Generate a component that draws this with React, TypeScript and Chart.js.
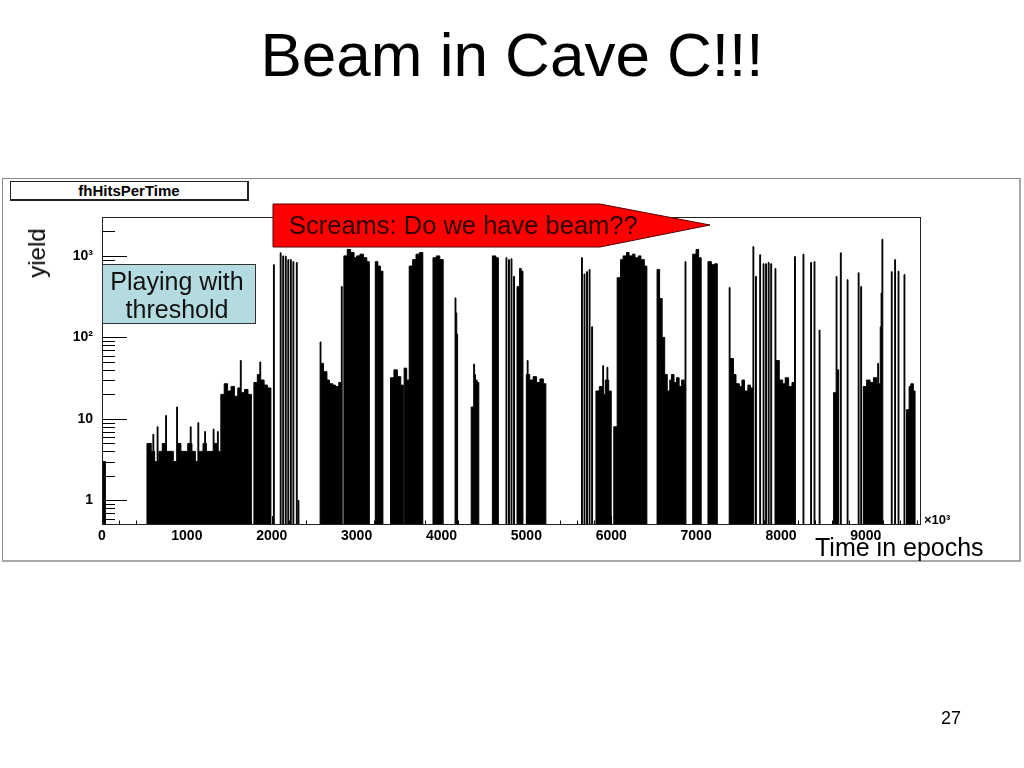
import React, { useEffect, useRef } from 'react';
import { Chart, registerables } from 'chart.js';

Chart.register(...registerables);

// ---- axis ranges / ticks ----
const X_MAX = 9650;
const Y_MIN = 0.5;
const Y_MAX = 3000;
const BIN = 10; // histogram bin width in epochs (x10^3)

const xTickValues = [0, 1000, 2000, 3000, 4000, 5000, 6000, 7000, 8000, 9000];
const yTickValues = [1, 10, 100, 1000];
const yTickLabels = ['1', '10', '10²', '10³'];

// ---- histogram "fhHitsPerTime": dense blocks (start, end, values read across the block) ----
const blockStart = [0, 530, 1402, 1791, 2568, 2851, 3216, 3404, 3558, 3617, 3899, 4347, 4600, 4889, 4995, 5819, 6031, 6544, 6961, 7139, 7398, 7940, 8623, 8965, 9483];
const blockEnd = [40, 1402, 1761, 1991, 2821, 3145, 3310, 3546, 3617, 3781, 4017, 4441, 4665, 4960, 5230, 5996, 6420, 6880, 7055, 7245, 7669, 8164, 8682, 9165, 9577];
const blockValues = [
  [3],
  [5, 4, 3, 4, 5, 4, 4, 3, 5, 4, 4, 5, 4, 3, 4, 5, 4, 4, 5, 4],
  [20, 27, 22, 25, 19, 24, 21, 23, 20],
  [28, 35, 30, 26, 24],
  [48, 38, 30, 27, 26, 25, 28],
  [1000, 1200, 1100, 950, 1000, 1050, 950, 850],
  [850, 750, 650],
  [32, 40, 33, 26],
  [42, 30],
  [750, 900, 1050, 1100],
  [950, 1000, 900],
  [14, 35, 30, 28],
  [1000, 950],
  [420, 700, 650],
  [35, 30, 33, 28, 31, 27],
  [22, 25, 20, 30, 22],
  [8, 540, 900, 1000, 1100, 1000, 1050, 950, 1000, 900, 750],
  [680, 300, 100, 35, 22, 30, 35, 28, 32, 25, 30, 27],
  [1050, 1200, 950],
  [850, 780, 800],
  [55, 35, 27, 25, 30, 22, 26, 24],
  [52, 30, 27, 32, 25, 28],
  [21, 40],
  [25, 30, 28, 32, 27],
  [13, 25, 27, 22],
];

// ---- isolated single-bin spikes ----
const spikeX = [601, 648, 754, 884, 1037, 1131, 1213, 1308, 1355, 1626, 1861, 2020, 2103, 2126, 2156, 2191, 2221, 2250, 2285, 2309, 2574, 2821, 4158, 4170, 4182, 4382, 4758, 4788, 4818, 4847, 5006, 5654, 5678, 5713, 5737, 5766, 5902, 5945, 6868, 7386, 7665, 7704, 7745, 7792, 7816, 7845, 7875, 7928, 8164, 8264, 8346, 8394, 8447, 8647, 8700, 8782, 8912, 8941, 9141, 9165, 9176, 9188, 9300, 9336, 9383, 9454];
const spikeY = [6.5, 8, 11, 14, 8, 9, 7, 7.5, 7, 52, 50, 780, 1090, 1000, 990, 900, 900, 850, 830, 1, 88, 420, 305, 200, 110, 47, 950, 900, 920, 560, 52, 950, 600, 640, 680, 135, 45, 43, 850, 410, 1300, 560, 1030, 800, 800, 830, 800, 700, 980, 1050, 830, 850, 123, 560, 1090, 510, 620, 420, 48, 135, 350, 1600, 640, 900, 650, 590];

function buildHistogram() {
  const n = Math.ceil(X_MAX / BIN);
  const bins: number[] = new Array(n).fill(0);
  blockStart.forEach((s, i) => {
    const vals = blockValues[i];
    const b0 = Math.round(s / BIN);
    const b1 = Math.max(b0 + 1, Math.round(blockEnd[i] / BIN));
    for (let b = b0; b < b1 && b < n; b++) {
      const k = Math.min(vals.length - 1, Math.floor(((b - b0) / (b1 - b0)) * vals.length));
      bins[b] = Math.max(bins[b], vals[k]);
    }
  });
  spikeX.forEach((x, i) => {
    const b = Math.round(x / BIN);
    if (b < n) bins[b] = Math.max(bins[b], spikeY[i]);
  });
  const pts: { x: number; y: number }[] = [];
  let prev = -1;
  for (let b = 0; b < n; b++) {
    const v = bins[b] > 0 ? bins[b] : 0.1;
    if (v !== prev) {
      pts.push({ x: b * BIN, y: v });
      prev = v;
    }
  }
  pts.push({ x: X_MAX, y: 0.1 });
  return pts;
}

const FONT = '"Liberation Sans", Arial, Helvetica, sans-serif';

const rootFramePlugin = {
  id: 'rootFrame',
  afterDatasetsDraw(chart: any) {
    const { ctx, chartArea: a, scales } = chart;
    const xs = scales.x;
    const ys = scales.y;
    ctx.save();
    ctx.strokeStyle = '#000';
    ctx.lineWidth = 1;
    ctx.beginPath();
    // y ticks (inside, left)
    const decades = [0.1, 1, 10, 100, 1000];
    decades.forEach((d) => {
      for (let m = 1; m <= 9; m++) {
        const v = d * m;
        if (v <= Y_MIN || v >= Y_MAX) continue;
        const py = Math.round(ys.getPixelForValue(v)) + 0.5;
        const len = m === 1 ? 25 : 13;
        ctx.moveTo(a.left, py);
        ctx.lineTo(a.left + len, py);
      }
    });
    // x ticks (inside, bottom)
    for (let v = 0; v < X_MAX; v += 200) {
      const px = Math.round(xs.getPixelForValue(v)) + 0.5;
      const len = v % 1000 === 0 ? 9 : 4.5;
      ctx.moveTo(px, a.bottom);
      ctx.lineTo(px, a.bottom - len);
    }
    ctx.stroke();
    // frame
    ctx.strokeStyle = '#222';
    ctx.strokeRect(a.left + 0.5, a.top + 0.5, a.right - a.left - 1, a.bottom - a.top - 1);
    // x10^3
    ctx.fillStyle = '#000';
    ctx.font = 'bold 13px ' + FONT;
    ctx.textAlign = 'left';
    ctx.textBaseline = 'alphabetic';
    ctx.fillText('×10³', a.right + 3, a.bottom - 1);
    ctx.restore();
  },
};

export default function App() {
  const canvasRef = useRef<HTMLCanvasElement | null>(null);

  useEffect(() => {
    if (!canvasRef.current) return;
    const data = buildHistogram();
    const chart = new Chart(canvasRef.current, {
      type: 'line',
      data: {
        datasets: [
          {
            label: 'fhHitsPerTime',
            data,
            stepped: 'before',
            fill: 'start',
            borderColor: '#000',
            backgroundColor: '#000',
            borderWidth: 1,
            pointRadius: 0,
            tension: 0,
          } as any,
        ],
      },
      options: {
        animation: false,
        responsive: false,
        maintainAspectRatio: false,
        layout: { padding: { left: 0, top: 217, right: 103, bottom: 213 } },
        plugins: {
          legend: { display: false },
          tooltip: { enabled: false },
          title: { display: false },
        },
        scales: {
          x: {
            type: 'linear',
            min: 0,
            max: X_MAX,
            bounds: 'data',
            grid: { display: false, drawTicks: false, tickLength: 0 },
            border: { display: false },
            afterFit: (s: any) => {
              s.height = 30;
            },
            afterBuildTicks: (s: any) => {
              s.ticks = xTickValues.map((v) => ({ value: v }));
            },
            ticks: {
              autoSkip: false,
              maxRotation: 0,
              padding: 3,
              color: '#000',
              font: { family: FONT, weight: 'bold', size: 14 },
              callback: (v: any) => String(v),
            },
          },
          y: {
            type: 'logarithmic',
            min: Y_MIN,
            max: Y_MAX,
            bounds: 'data',
            grid: { display: false, drawTicks: false, tickLength: 0 },
            border: { display: false },
            afterFit: (s: any) => {
              s.width = 102;
            },
            afterBuildTicks: (s: any) => {
              s.ticks = yTickValues.map((v) => ({ value: v }));
            },
            ticks: {
              autoSkip: false,
              padding: 9,
              color: '#000',
              font: { family: FONT, weight: 'bold', size: 14 },
              callback: (_v: any, i: number) => yTickLabels[i],
            },
          },
        },
      } as any,
      plugins: [rootFramePlugin],
    });
    return () => chart.destroy();
  }, []);

  const abs = (o: React.CSSProperties): React.CSSProperties => ({ position: 'absolute', whiteSpace: 'nowrap', ...o });

  return (
    <div style={{ position: 'absolute', left: 0, top: 0, width: 1024, height: 768, background: '#fff', overflow: 'hidden', fontFamily: FONT, color: '#000' }}>
      {/* slide title */}
      <div style={abs({ left: 0, top: 24, width: 1024, textAlign: 'center', fontSize: 62, lineHeight: '62px' })}>Beam in Cave C!!!</div>
      {/* pad border */}
      <div style={abs({ left: 2, top: 178, width: 1016, height: 381, borderTop: '1px solid #8a8a8a', borderLeft: '1px solid #8a8a8a', borderRight: '2px solid #a8a8a8', borderBottom: '2px solid #a8a8a8' })} />
      <canvas ref={canvasRef} width={1024} height={768} style={{ position: 'absolute', left: 0, top: 0, width: 1024, height: 768 }} />
      {/* histogram title box */}
      <div style={abs({ left: 10, top: 181, width: 236, height: 17, borderTop: '1px solid #222', borderLeft: '1px solid #222', borderRight: '2px solid #222', borderBottom: '2px solid #222', background: '#fff', textAlign: 'center', fontWeight: 'bold', fontSize: 15, lineHeight: '17px' })}>fhHitsPerTime</div>
      {/* axis titles */}
      <div style={abs({ left: 36.5, top: 253, fontSize: 24, lineHeight: '24px', transform: 'translate(-50%,-50%) rotate(-90deg)' })}>yield</div>
      <div style={abs({ left: 815, top: 535, fontSize: 25, lineHeight: '25px' })}>Time in epochs</div>
      {/* annotation: threshold */}
      <div style={abs({ left: 102, top: 264, width: 152, height: 58, background: '#b4dbe0', border: '1px solid #333' })} />
      <div style={abs({ left: 100, top: 267, width: 154, textAlign: 'center', fontSize: 25, lineHeight: '28px', color: '#111' })}>
        Playing with
        <br />
        threshold
      </div>
      {/* annotation: arrow */}
      <svg width={1024} height={768} style={{ position: 'absolute', left: 0, top: 0, pointerEvents: 'none' }}>
        <polygon points="273,204 600,204 710,225 600,247 273,247" fill="#ff0000" stroke="#5a0000" strokeWidth={1} />
      </svg>
      <div style={abs({ left: 289, top: 213, fontSize: 25.5, lineHeight: '25px', color: '#2a0000' })}>Screams: Do we have beam??</div>
      {/* slide number */}
      <div style={abs({ left: 941, top: 709, fontSize: 18, lineHeight: '18px' })}>27</div>
    </div>
  );
}
